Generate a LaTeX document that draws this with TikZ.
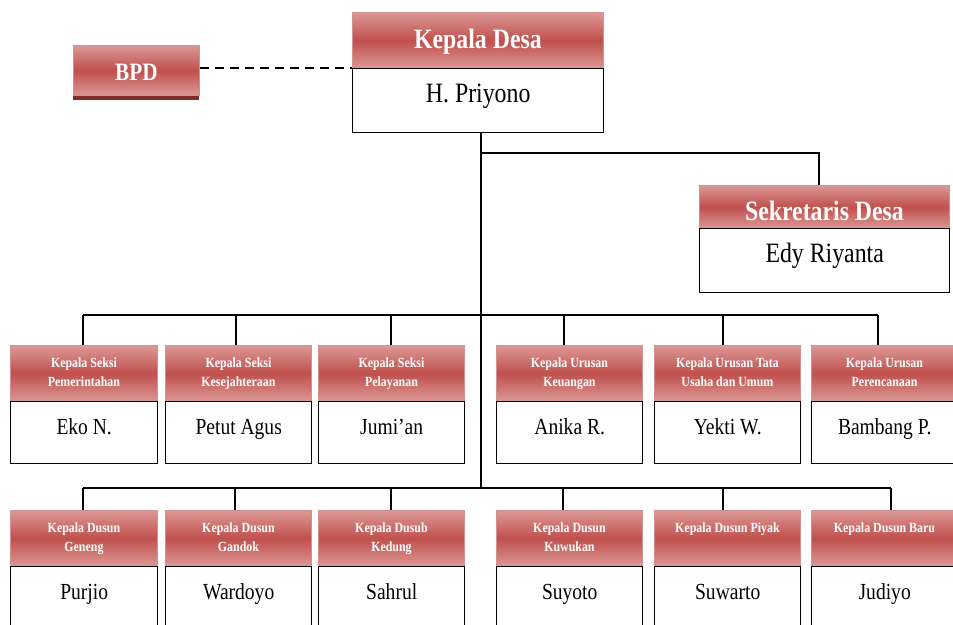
\documentclass[tikz,border=0pt]{standalone}
\usepackage{fontspec}
\setmainfont{Liberation Serif}
\newfontfamily\cond[FakeStretch=0.85]{Liberation Serif}
\usetikzlibrary{shadows}
\definecolor{hdred}{HTML}{C0504D}
\definecolor{hdlight}{HTML}{DB9896}
\definecolor{hdborder}{HTML}{D4908E}
\definecolor{shadowred}{HTML}{7E2B29}
\tikzset{
  hdr/.style={draw=hdborder, line width=0.9pt, top color=hdlight, bottom color=hdlight,
              middle color=hdred, inner sep=0pt, anchor=north west},
  bodybox/.style={draw=black, line width=1.4pt, fill=white, inner sep=0pt, anchor=north west},
  bigtxt/.style={font=\cond\bfseries\fontsize{28}{30}\selectfont, text=white, inner sep=0pt, anchor=base},
  smalltxt/.style={font=\cond\bfseries\fontsize{14}{19}\selectfont, text=white, inner sep=0pt,
                   anchor=north, align=center},
  bigname/.style={font=\cond\fontsize{28}{30}\selectfont, inner sep=0pt, anchor=base},
  rowname/.style={font=\cond\fontsize{23}{26}\selectfont, inner sep=0pt, anchor=base},
  link/.style={draw=black, line width=1.3pt},
}
% #1 name, #2 x1, #3 x2, #4 top, #5 mid, #6 bottom, #7 header text, #8 name
\newcommand\orgunit[8]{%
  \node[hdr, minimum width={#3-#2}, minimum height={#5-#4}] (#1h) at (#2,#4) {};
  \node[bodybox, minimum width={#3-#2}, minimum height={#6-#5}] (#1b) at (#2,#5) {};
  \node[smalltxt] (#1ht) at ([yshift=-13pt]#1h.north) {#7};
  \node[rowname] (#1bt) at ([yshift=-33pt]#1b.north) {#8};
}
\begin{document}
\begin{tikzpicture}[x=1pt,y=-1pt]
\useasboundingbox (0,0) rectangle (953,624);
\fill[white] (0,0) rectangle (953,624);
\clip (0,0) rectangle (953,624);

% Kepala Desa
\node[hdr, minimum width=251, minimum height=56] (kdh) at (352,12) {};
\node[bodybox, minimum width=251, minimum height=64] (kdb) at (352,68) {};
\node[bigtxt] (kdht) at ([yshift=-36pt]kdh.north) {Kepala Desa};
\node[bigname] (kdbt) at ([yshift=-34pt]kdb.north) {H. Priyono};

% BPD
\node[hdr, minimum width=126, minimum height=50,
      drop shadow={shadow xshift=0pt, shadow yshift=-5pt, fill=shadowred, opacity=1}] (bpd) at (73,45) {};
\node[bigtxt, font=\cond\bfseries\fontsize{25}{27}\selectfont] (bpdt) at ([yshift=-35pt]bpd.north) {BPD};

% Sekretaris Desa
\node[hdr, minimum width=250, minimum height=43] (sdh) at (699,185) {};
\node[bodybox, minimum width=250, minimum height=64] (sdb) at (699,228) {};
\node[bigtxt] (sdht) at ([yshift=-35pt]sdh.north) {Sekretaris Desa};
\node[bigname] (sdbt) at ([yshift=-34pt]sdb.north) {Edy Riyanta};

% Row 1
\orgunit{a}{10}{157}{345}{401}{463}{Kepala Seksi\\Pemerintahan}{Eko N.}
\orgunit{b}{165}{311}{345}{401}{463}{Kepala Seksi\\Kesejahteraan}{Petut Agus}
\orgunit{c}{318}{464}{345}{401}{463}{Kepala Seksi\\Pelayanan}{Jumi’an}
\orgunit{d}{496}{642}{345}{401}{463}{Kepala Urusan\\Keuangan}{Anika R.}
\orgunit{e}{654}{800}{345}{401}{463}{Kepala Urusan Tata\\Usaha dan Umum}{Yekti W.}
\orgunit{f}{811}{957}{345}{401}{463}{Kepala Urusan\\Perencanaan}{Bambang P.}

% Row 2
\orgunit{g}{10}{157}{510}{566}{640}{Kepala Dusun\\Geneng}{Purjio}
\orgunit{h}{165}{311}{510}{566}{640}{Kepala Dusun\\Gandok}{Wardoyo}
\orgunit{i}{318}{464}{510}{566}{640}{Kepala Dusub\\Kedung}{Sahrul}
\orgunit{j}{496}{642}{510}{566}{640}{Kepala Dusun\\Kuwukan}{Suyoto}
\orgunit{k}{654}{800}{510}{566}{640}{Kepala Dusun Piyak}{Suwarto}
\orgunit{l}{811}{957}{510}{566}{640}{Kepala Dusun Baru}{Judiyo}

% connectors
\coordinate (sbr) at (481,153);
\coordinate (bus1) at (481,315);
\coordinate (bus2) at (481,488);
\coordinate (sdrop) at (819,153);
\draw[link, dash pattern=on 9pt off 6pt] (bpd.east |- kdb.north west) -- (kdb.north west);
\draw[link] (kdb.south -| bus2) -- (bus2);
\draw[link] (sbr) -- (sdrop) -- (sdrop |- sdh.north);

\coordinate (r1l) at (83,315);
\coordinate (r1r) at (878,315);
\draw[link] (r1l) -- (r1r);
\foreach \n/\x in {a/83, b/236, c/391, d/564, e/723, f/878}{
  \coordinate (p\n) at (\x,315);
  \draw[link] (p\n) -- (p\n |- \n h.north);
}
\coordinate (r2l) at (83,488);
\coordinate (r2r) at (891,488);
\draw[link] (r2l) -- (r2r);
\foreach \n/\x in {g/83, h/235, i/391, j/563, k/723, l/891}{
  \coordinate (p\n) at (\x,488);
  \draw[link] (p\n) -- (p\n |- \n h.north);
}
\end{tikzpicture}
\end{document}
